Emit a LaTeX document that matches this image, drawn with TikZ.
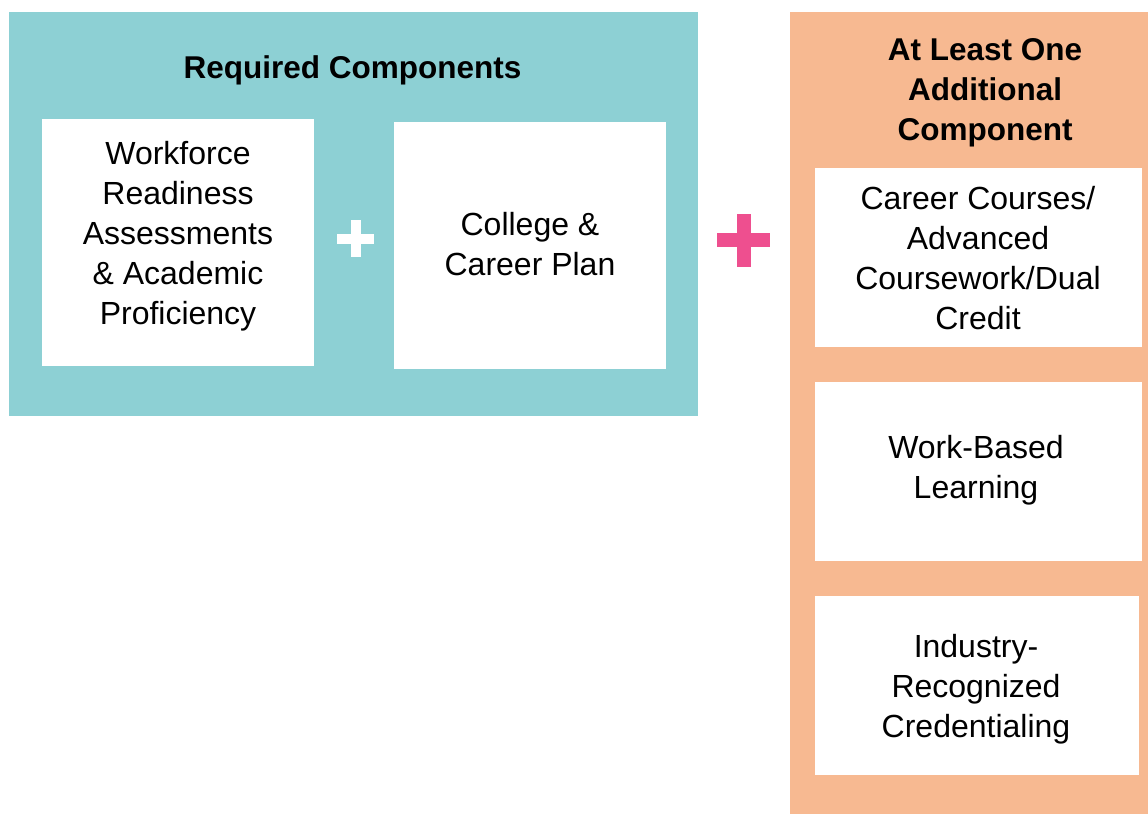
\documentclass[tikz,border=0pt]{standalone}
\usepackage{fontspec}
\setmainfont{Liberation Sans}
\definecolor{tealbg}{RGB}{141,208,212}
\definecolor{orangebg}{RGB}{247,185,145}
\definecolor{pinkplus}{RGB}{238,79,143}
\newcommand{\stack}[1]{\begin{tabular}[t]{@{}c@{}}#1\end{tabular}}
\tikzset{
  panel/.style={rectangle, draw=none, inner sep=0pt, outer sep=0pt},
  card/.style={rectangle, fill=white, draw=none, inner sep=0pt, outer sep=0pt},
  body/.style={inner sep=0pt, anchor=base, font=\fontsize{32}{40}\selectfont},
  heading/.style={inner sep=0pt, anchor=base, font=\fontsize{31.5}{40}\selectfont\bfseries},
}
\begin{document}
\begin{tikzpicture}[x=1pt,y=-1pt]
\useasboundingbox (0,0) rectangle (1148,814);
% panels
\node[panel, fill=tealbg, minimum width=689pt, minimum height=404pt] (req) at (353.5,214) {};
\node[panel, fill=orangebg, minimum width=358pt, minimum height=802pt] (add) at (969,413) {};
% cards in required panel
\node[card, minimum width=272pt, minimum height=247pt] (wf) at (178,242.5) {};
\node[card, minimum width=272pt, minimum height=247pt] (cc) at (530,245.5) {};
% cards in additional panel
\node[card, minimum width=327pt, minimum height=179pt] (ca) at (978.5,257.5) {};
\node[card, minimum width=327pt, minimum height=179pt] (wb) at (978.5,471.5) {};
\node[card, minimum width=324pt, minimum height=179pt] (ic) at (977,685.5) {};
% headings
\node[heading] (reqt) at (352.5,78) {Required Components};
\node[heading] (addt) at (985,60) {\stack{At Least One\\Additional\\Component}};
% texts
\node[body] (wft) at (178,164) {\stack{Workforce\\Readiness\\Assessments\\\& Academic\\Proficiency}};
\node[body] (cct) at (530,235) {\stack{College \&\\Career Plan}};
\node[body] (cat) at (978,209) {\stack{Career Courses/\\Advanced\\Coursework/Dual\\Credit}};
\node[body] (wbt) at (976,458) {\stack{Work-Based\\Learning}};
\node[body] (ict) at (976,657) {\stack{Industry-\\Recognized\\Credentialing}};
% plus signs
\fill[white] (337,233.5) rectangle (374,243.5);
\fill[white] (350.5,220) rectangle (360.5,257);
\fill[pinkplus] (717,233) rectangle (770,247);
\fill[pinkplus] (737,214) rectangle (751,267);
\end{tikzpicture}
\end{document}
